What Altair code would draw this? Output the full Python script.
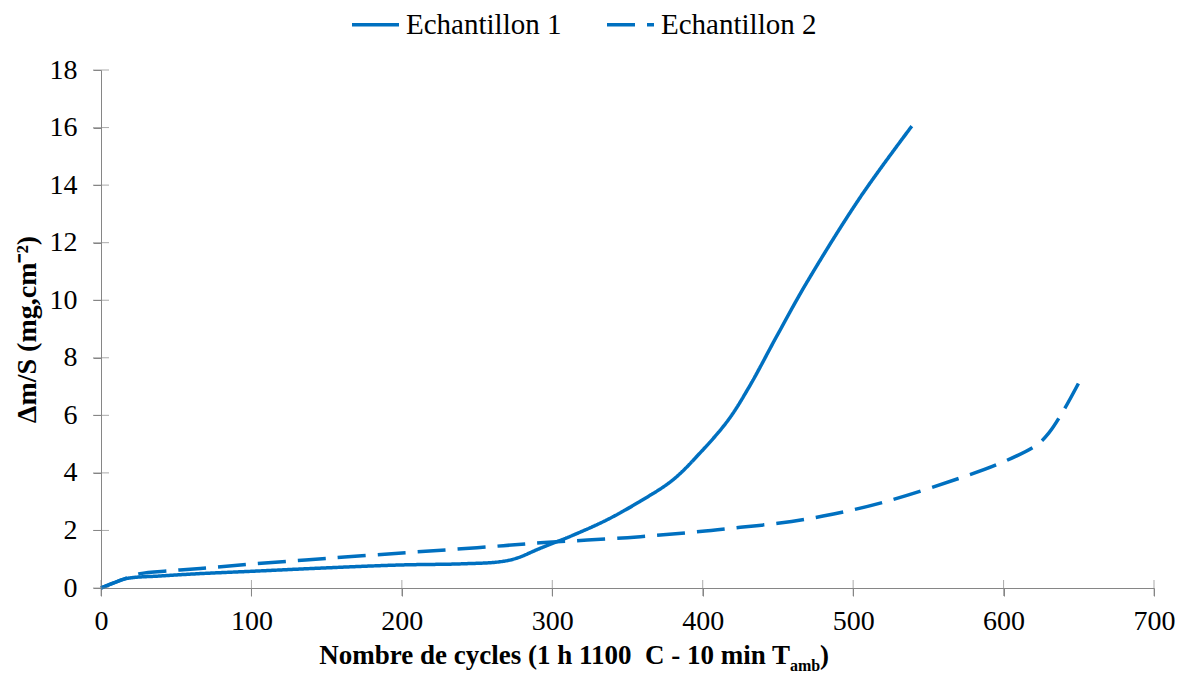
import altair as alt
import pandas as pd

BLUE = "#0070C0"
GRAY = "#868686"
FONT = "Liberation Serif"

series_names = ["Echantillon 1", "Echantillon 2"]

cycles_1 = [0, 8, 17, 40, 66, 100, 150, 199, 240, 265, 276, 292, 314, 336, 358, 380, 398, 417, 431, 449, 469, 505, 539]
dm_1 = [0, 0.17, 0.33, 0.42, 0.50, 0.58, 0.70, 0.80, 0.84, 0.91, 1.03, 1.38, 1.84, 2.36, 3.0, 3.75, 4.68, 5.84, 7.0, 8.73, 10.6, 13.6, 16.05]

cycles_2 = [0, 17, 26, 46, 66, 100, 150, 203, 250, 292, 350, 398, 425, 450, 480, 518, 571, 598, 622, 630, 640, 650]
dm_2 = [0, 0.34, 0.50, 0.60, 0.68, 0.83, 1.03, 1.23, 1.40, 1.57, 1.75, 1.96, 2.11, 2.25, 2.50, 2.95, 3.82, 4.34, 4.97, 5.38, 6.18, 7.13]

x_ticks = [0, 100, 200, 300, 400, 500, 600, 700]
y_ticks = [0, 2, 4, 6, 8, 10, 12, 14, 16, 18]

x_title_main = "Nombre de cycles (1 h 1100 \u00a0C - 10 min T"
x_title_sub = "amb"
x_title_end = ")"
y_title = "\u0394m/S (mg,cm\u207b\u00b2)"

df = pd.concat([
    pd.DataFrame({"cycles": cycles_1, "dm": dm_1, "serie": series_names[0]}),
    pd.DataFrame({"cycles": cycles_2, "dm": dm_2, "serie": series_names[1]}),
])

xscale = alt.Scale(domain=[0, 700], nice=False)
yscale = alt.Scale(domain=[0, 18], nice=False)

xaxis = alt.Axis(values=x_ticks, title=None, grid=False, domainColor=GRAY,
                 tickColor=GRAY, tickSize=8, labelFont=FONT, labelFontSize=28,
                 labelColor="black", labelPadding=11, labelFlush=False)
yaxis = alt.Axis(values=y_ticks, title=y_title, grid=False, domainColor=GRAY,
                 tickColor=GRAY, tickSize=8, labelFont=FONT, labelFontSize=28,
                 labelColor="black", labelPadding=16, labelFlush=False, titleFont=FONT,
                 titleFontSize=28, titleFontWeight="bold", titleColor="black",
                 titlePadding=8)

lines = alt.Chart(df).mark_line(strokeWidth=3.5, color=BLUE, interpolate="catmull-rom").encode(
    x=alt.X("cycles:Q", scale=xscale, axis=xaxis),
    y=alt.Y("dm:Q", scale=yscale, axis=yaxis),
    strokeDash=alt.StrokeDash("serie:N",
                              scale=alt.Scale(domain=series_names, range=[[1, 0], [28, 12]]),
                              legend=alt.Legend(title=None, orient="none", direction="horizontal",
                                                legendX=249, legendY=-71, symbolType="stroke",
                                                symbolSize=2209, symbolStrokeWidth=3.5,
                                                symbolStrokeColor=BLUE, labelFont=FONT,
                                                labelFontSize=29, labelColor="black",
                                                labelLimit=400, labelOffset=5,
                                                columnPadding=38, padding=0)),
)

xt = alt.Chart(pd.DataFrame({"cycles": x_ticks, "dm": [0] * len(x_ticks)})).mark_tick(
    orient="vertical", size=16, thickness=1, color=GRAY
).encode(x=alt.X("cycles:Q", scale=xscale, axis=xaxis),
         y=alt.Y("dm:Q", scale=yscale, axis=yaxis))

yt = alt.Chart(pd.DataFrame({"dm": y_ticks, "cycles": [0] * len(y_ticks)})).mark_tick(
    orient="horizontal", size=16, thickness=1, color=GRAY
).encode(x=alt.X("cycles:Q", scale=xscale, axis=xaxis),
         y=alt.Y("dm:Q", scale=yscale, axis=yaxis))

one = pd.DataFrame({"k": [0]})
t_main = alt.Chart(one).mark_text(text=x_title_main, font=FONT, fontSize=27, fontWeight="bold",
                                  align="right", baseline="alphabetic", color="black").encode(
    x=alt.value(689), y=alt.value(594))
t_sub = alt.Chart(one).mark_text(text=x_title_sub, font=FONT, fontSize=16, fontWeight="bold",
                                 align="left", baseline="alphabetic", color="black").encode(
    x=alt.value(689), y=alt.value(601))
t_end = alt.Chart(one).mark_text(text=x_title_end, font=FONT, fontSize=27, fontWeight="bold",
                                 align="left", baseline="alphabetic", color="black").encode(
    x=alt.value(719), y=alt.value(594))

chart = alt.layer(lines, xt, yt, t_main, t_sub, t_end).properties(
    width=1053, height=518,
    padding={"left": 93, "top": 62, "right": 21, "bottom": 90},
    autosize=alt.AutoSizeParams(type="none"),
    background="white",
).configure_view(stroke=None)

chart.save("out.html", embed_options={"renderer": "svg", "actions": False})
